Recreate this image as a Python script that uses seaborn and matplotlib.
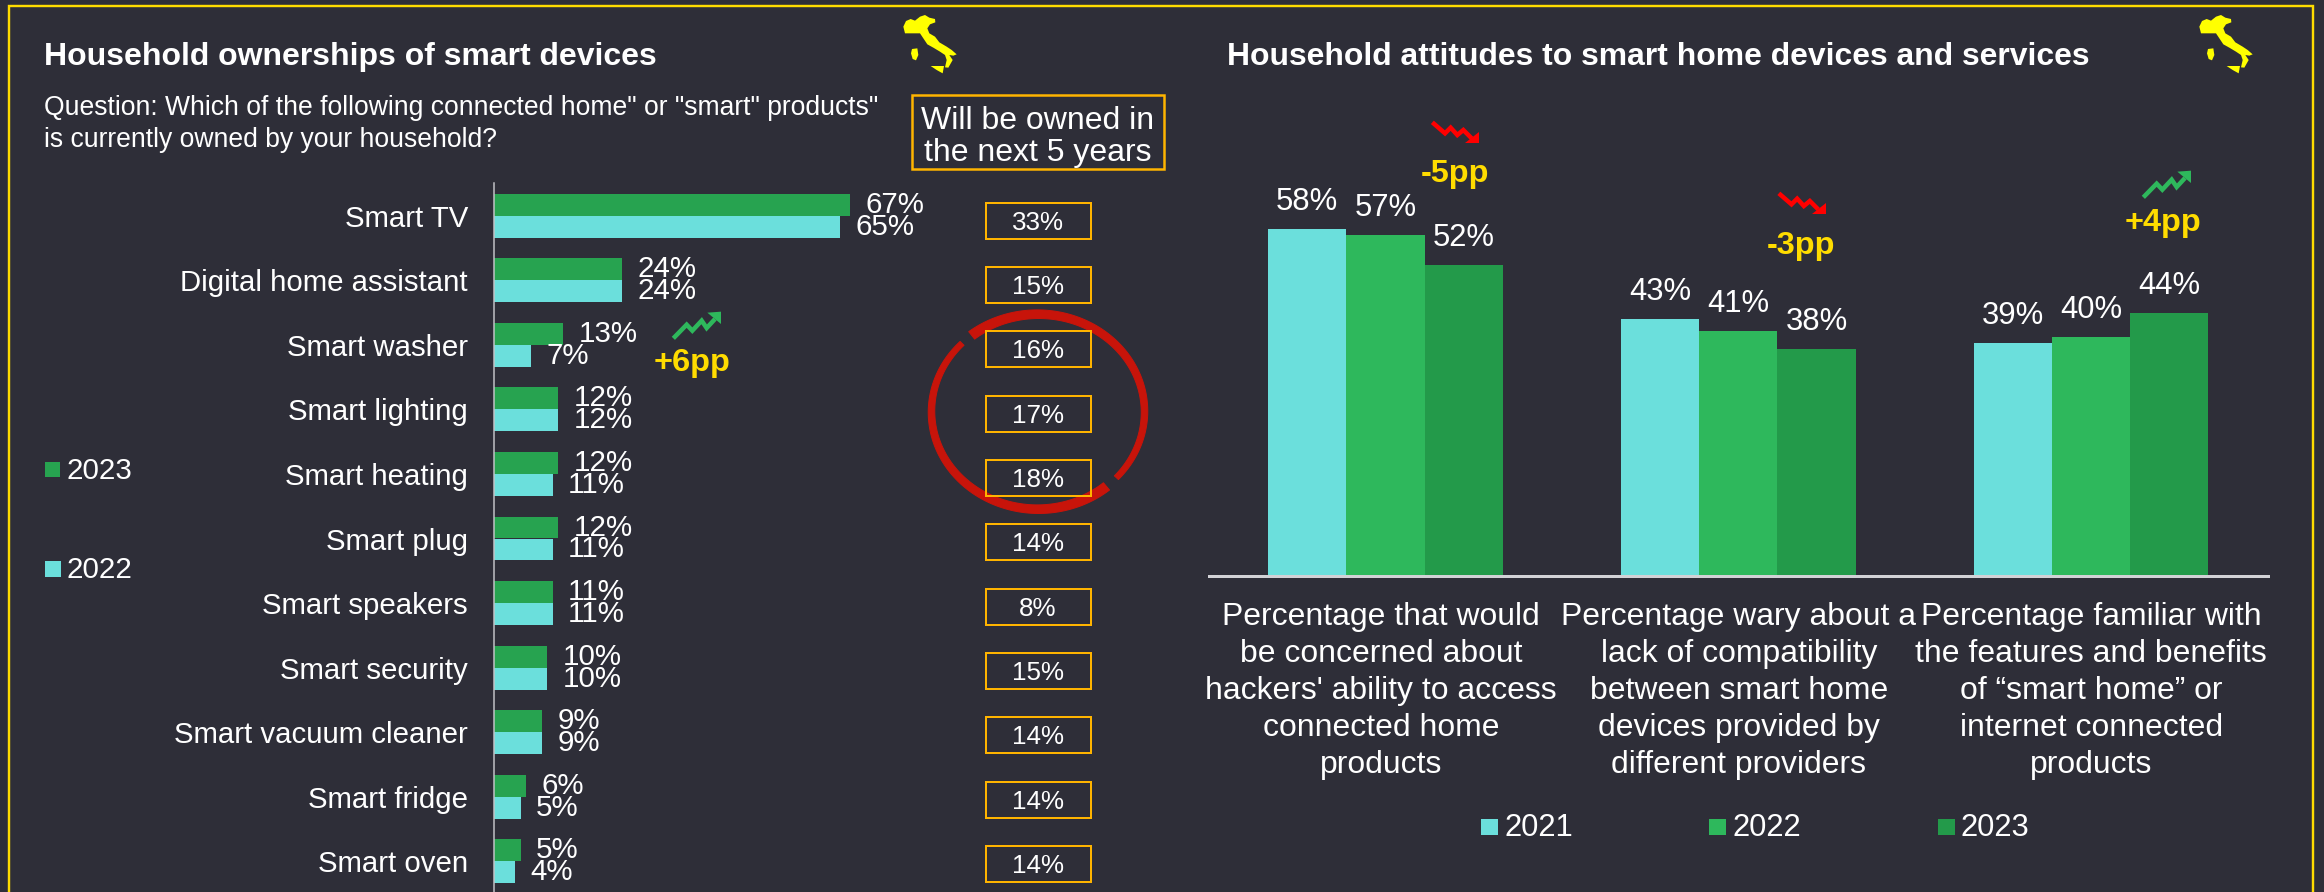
import numpy as np
import pandas as pd
import matplotlib
matplotlib.use("Agg")
import matplotlib.pyplot as plt
from matplotlib.patches import Polygon, Rectangle
from matplotlib.transforms import ScaledTranslation
import seaborn as sns

W, H = 2324, 892
DPI = 100
BG = "#2E2E38"
FRAME = "#FFDC00"
BOX = "#FFB400"
ITALY = "#FFFF00"
TEAL = "#6BDFDC"
GREEN_LEFT = "#27A350"
GREEN_MID = "#2EB85C"
GREEN_DARK = "#239A4A"
RED = "#FF0000"
RING = "#C8140A"

devices = ["Smart TV", "Digital home assistant", "Smart washer", "Smart lighting",
           "Smart heating", "Smart plug", "Smart speakers", "Smart security",
           "Smart vacuum cleaner", "Smart fridge", "Smart oven"]
owned_2023 = [67, 24, 13, 12, 12, 12, 11, 10, 9, 6, 5]
owned_2022 = [65, 24, 7, 12, 11, 11, 11, 10, 9, 5, 4]
next_5_years = [33, 15, 16, 17, 18, 14, 8, 15, 14, 14, 14]

attitudes = ["Percentage that would\nbe concerned about\nhackers' ability to access\nconnected home\nproducts",
             "Percentage wary about a\nlack of compatibility\nbetween smart home\ndevices provided by\ndifferent providers",
             "Percentage familiar with\nthe features and benefits\nof “smart home” or\ninternet connected\nproducts"]
attitude_2021 = [58, 43, 39]
attitude_2022 = [57, 41, 40]
attitude_2023 = [52, 38, 44]


def pt(px):
    return px * 72 / DPI


def axes_rect(x0, y0, x1, y1):
    return [x0 / W, 1 - y1 / H, (x1 - x0) / W, (y1 - y0) / H]


sns.set_theme(style="white")
plt.rcParams["font.family"] = ["Liberation Sans", "DejaVu Sans"]
plt.rcParams["text.color"] = "white"

fig = plt.figure(figsize=(W / DPI, H / DPI), dpi=DPI, facecolor=BG)

# Ownership bars
ax_own = fig.add_axes(axes_rect(494, 183.4, 1000, 893.6), facecolor="none")
own = pd.DataFrame({
    "device": devices * 2,
    "value": owned_2023 + owned_2022,
    "year": ["2023"] * len(devices) + ["2022"] * len(devices),
})
sns.barplot(data=own, y="device", x="value", hue="year", order=devices,
            hue_order=["2023", "2022"], palette={"2023": GREEN_LEFT, "2022": TEAL},
            width=0.68, gap=0, saturation=1, legend=False, linewidth=0, edgecolor="none", ax=ax_own)
ax_own.set_xlim(0, 506 / 5.32)
ax_own.set_ylim(10.5, -0.5)
ax_own.set(xlabel="", ylabel="")
ax_own.set_xticks([])
ax_own.tick_params(axis="y", length=0, pad=pt(26), labelsize=pt(29.4), labelcolor="white")
for side in ("top", "right", "bottom"):
    ax_own.spines[side].set_visible(False)
ax_own.spines["left"].set_color("#C4C4C8")
ax_own.spines["left"].set_linewidth(pt(1.5))
for bars, vals in zip(ax_own.containers, (owned_2023, owned_2022)):
    ax_own.bar_label(bars, labels=[f"{v}%" for v in vals], padding=pt(15.5),
                     color="white", fontsize=pt(29.5))

# Attitude bars
ax_att = fig.add_axes(axes_rect(1209, 575.5 - 5.97 * 70, 2267.6, 575.5), facecolor="none")
att = pd.DataFrame({
    "attitude": attitudes * 3,
    "value": attitude_2021 + attitude_2022 + attitude_2023,
    "year": ["2021"] * 3 + ["2022"] * 3 + ["2023"] * 3,
})
sns.barplot(data=att, x="attitude", y="value", hue="year", order=attitudes,
            palette={"2021": TEAL, "2022": GREEN_MID, "2023": GREEN_DARK},
            width=0.665, gap=0, saturation=1, legend=False, linewidth=0, edgecolor="none", ax=ax_att)
ax_att.set_xlim(-0.5, 2.5)
ax_att.set_ylim(0, 70)
ax_att.set(xlabel="", ylabel="")
ax_att.set_yticks([])
ax_att.tick_params(axis="x", length=0, pad=pt(27), labelsize=pt(31.9), labelcolor="white")
for side in ("top", "right", "left"):
    ax_att.spines[side].set_visible(False)
ax_att.spines["bottom"].set_color("#D2D2D6")
ax_att.spines["bottom"].set_linewidth(pt(3))
for lbl in ax_att.get_xticklabels():
    lbl.set_linespacing(1.3)
for lbl, shift in zip(ax_att.get_xticklabels(), (-4.5, 0.5, 0)):
    lbl.set_transform(lbl.get_transform() + ScaledTranslation(shift / DPI, 0, fig.dpi_scale_trans))
for bars, vals in zip(ax_att.containers, (attitude_2021, attitude_2022, attitude_2023)):
    ax_att.bar_label(bars, labels=[f"{v}%" for v in vals], padding=pt(12),
                     color="white", fontsize=pt(31))

# Overlay in pixel coordinates for panel furniture and callouts
ov = fig.add_axes([0, 0, 1, 1], facecolor="none", zorder=5)
ov.set_xlim(0, W)
ov.set_ylim(H, 0)
ov.axis("off")

# Outer frame, open at the bottom edge
ov.plot([9, 9, 2313, 2313], [H + 5, 6, 6, H + 5], color=FRAME, lw=pt(2.4), solid_joinstyle="miter")

ov.text(43.5, 57, "Household ownerships of smart devices", fontsize=pt(32),
        fontweight="bold", va="center", ha="left")
ov.text(1227, 57, "Household attitudes to smart home devices and services", fontsize=pt(31.9),
        fontweight="bold", va="center", ha="left")
ov.text(43.5, 108, 'Question: Which of the following connected home" or "smart" products"',
        fontsize=pt(26.5), va="center", ha="left")
ov.text(43.5, 140, "is currently owned by your household?", fontsize=pt(26.5), va="center", ha="left")

# Header box above the five-year column
ov.add_patch(Rectangle((912, 95), 252, 74, fill=False, ec=BOX, lw=pt(2.5)))
ov.text(1038, 121, "Will be owned in", fontsize=pt(32), va="center", ha="center")
ov.text(1038, 153, "the next 5 years", fontsize=pt(32), va="center", ha="center")


def brush_arc(a0, a1, w0, w1):
    """Ellipse stroke that tapers from width w0 to w1 between two angles (degrees)."""
    t = np.radians(np.linspace(a0, a1, 160))
    w = np.linspace(w0, w1, t.size)
    cx, cy, rx, ry = 1038, 411.7, 106.5, 97.5
    outer = np.c_[cx + (rx + w / 2) * np.cos(t), cy + (ry + w / 2) * np.sin(t)]
    inner = np.c_[cx + (rx - w / 2) * np.cos(t), cy + (ry - w / 2) * np.sin(t)]
    ov.add_patch(Polygon(np.r_[outer, inner[::-1]], closed=True, fc=RING, ec=RING,
                         lw=pt(1), joinstyle="round", zorder=1))


# Hand-drawn ring around the 16-18% boxes: two tapered strokes
brush_arc(-128.5, 42.6, 9.5, 5.5)
brush_arc(50, 224.5, 9.5, 5.5)

# Five-year ownership column
for i, v in enumerate(next_5_years):
    cy = 220.5 + i * 64.35
    ov.add_patch(Rectangle((985.5, cy - 18), 105, 36, fill=False, ec=BOX, lw=pt(2), zorder=2))
    ov.text(1038, cy + 2, f"{v}%", fontsize=pt(26), va="center", ha="center", zorder=3)

# Left legend
ov.add_patch(Rectangle((45, 462), 15, 15, fc=GREEN_LEFT, ec="none"))
ov.text(66.5, 471, "2023", fontsize=pt(29.5), va="center", ha="left")
ov.add_patch(Rectangle((44.5, 561), 16, 16, fc=TEAL, ec="none"))
ov.text(66.5, 570, "2022", fontsize=pt(29.5), va="center", ha="left")

# Right legend
for x, col, name in ((1481, TEAL, "2021"), (1709, GREEN_MID, "2022"), (1938, GREEN_DARK, "2023")):
    ov.add_patch(Rectangle((x, 819), 17, 16, fc=col, ec="none"))
    ov.text(x + 23, 828, name, fontsize=pt(31), va="center", ha="left")

# Italy outline, traced in icon-local pixels
mainland = np.array([(40, 65), (48, 48), (62, 42), (75, 47), (90, 35), (105, 30), (118, 38), (135, 42),
                     (136, 52), (120, 58), (112, 70), (118, 85), (135, 95), (148, 112), (170, 125),
                     (185, 135), (200, 148), (190, 152), (178, 150), (188, 165), (175, 188), (165, 187),
                     (170, 165), (165, 150), (150, 140), (130, 128), (112, 118), (100, 100), (90, 85),
                     (75, 85), (62, 85), (45, 85)]) / 3
sardinia = np.array([(66, 132), (82, 130), (85, 150), (78, 166), (68, 162), (63, 145)]) / 3
sicily = np.array([(122, 183), (162, 183), (158, 205), (140, 195)]) / 3
for ox in (890, 2186):
    for shape in (mainland, sardinia, sicily):
        ov.add_patch(Polygon(shape + (ox, 5), closed=True, fc=ITALY, ec="none"))

# Zigzag trend arrows
rise_line = np.array([(40, 115), (80, 74), (97, 92), (125, 62), (140, 84), (165, 57)]) / 3
rise_head = np.array([(142, 38), (183, 35), (183, 72)]) / 3
fall_line = np.array([(37, 37), (75, 70), (92, 53), (112, 75), (130, 60), (155, 85)]) / 3
fall_head = np.array([(135, 100), (178, 100), (178, 65)]) / 3


def trend_arrow(line, head, origin, color):
    pts = line + origin
    ov.plot(pts[:, 0], pts[:, 1], color=color, lw=pt(4.5), solid_joinstyle="miter", solid_capstyle="butt")
    ov.add_patch(Polygon(head + origin, closed=True, fc=color, ec="none"))


trend_arrow(rise_line, rise_head, (660, 300), GREEN_MID)
trend_arrow(rise_line, rise_head, (2130, 159), GREEN_MID)
trend_arrow(fall_line, fall_head, (1420, 110), RED)
trend_arrow(fall_line, fall_head, (1766.5, 181), RED)

# Percentage-point callouts
for x, y, s in ((692, 363, "+6pp"), (1455, 174, "-5pp"), (1801, 246, "-3pp"), (2163, 222.7, "+4pp")):
    ov.text(x, y, s, color=FRAME, fontsize=pt(32.5), fontweight="bold", va="center", ha="center")

fig.savefig("out.png", dpi=DPI, facecolor=BG)
